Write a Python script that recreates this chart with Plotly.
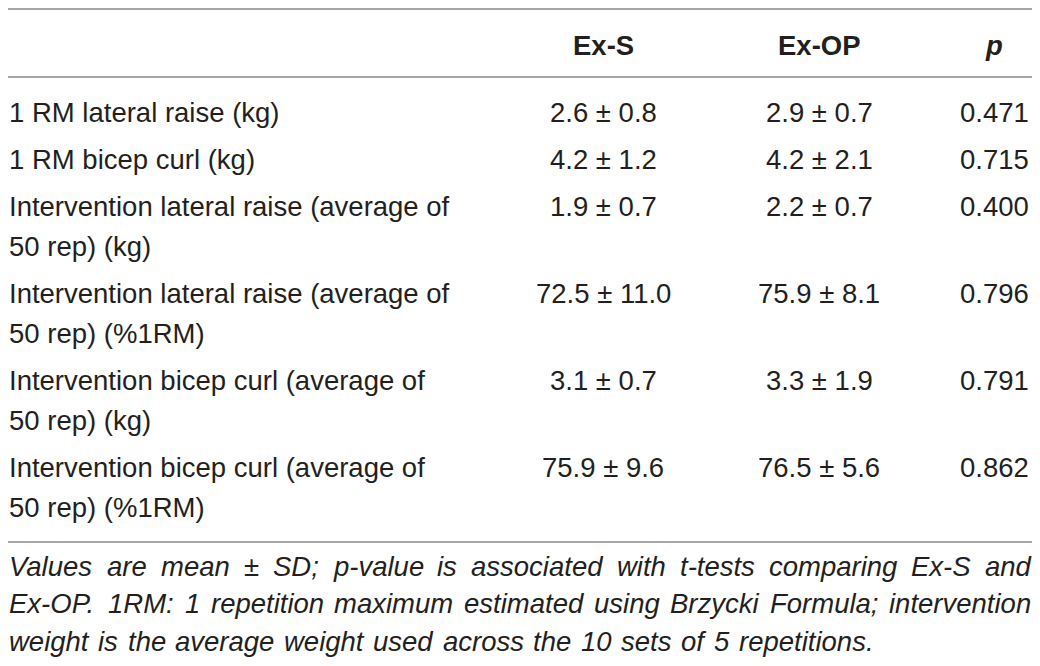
import plotly.graph_objects as go

# table contents
row_labels = [
    ["1 RM lateral raise (kg)"],
    ["1 RM bicep curl (kg)"],
    ["Intervention lateral raise (average of", "50 rep) (kg)"],
    ["Intervention lateral raise (average of", "50 rep) (%1RM)"],
    ["Intervention bicep curl (average of", "50 rep) (kg)"],
    ["Intervention bicep curl (average of", "50 rep) (%1RM)"],
]
ex_s_mean = [2.6, 4.2, 1.9, 72.5, 3.1, 75.9]
ex_s_sd = [0.8, 1.2, 0.7, 11.0, 0.7, 9.6]
ex_op_mean = [2.9, 4.2, 2.2, 75.9, 3.3, 76.5]
ex_op_sd = [0.7, 2.1, 0.7, 8.1, 1.9, 5.6]
p_values = [0.471, 0.715, 0.400, 0.796, 0.791, 0.862]
headers = ["<b>Ex-S</b>", "<b>Ex-OP</b>", "<b><i>p</i></b>"]
footnote = [
    "Values are mean ± SD; p-value is associated with t-tests comparing Ex-S and",
    "Ex-OP. 1RM: 1 repetition maximum estimated using Brzycki Formula; intervention",
    "weight is the average weight used across the 10 sets of 5 repetitions.",
]

W, H = 1040, 666
PAD = 8  # browser body margin, figure is kept inside it so nothing scrolls
FONT = "Liberation Sans, Arial, sans-serif"
TXT = "#231f20"
RULE = "#a6a6a6"
col_x = [603, 819, 994]
left_x = 8
fs = 27.5
foot_fs = 27.5
foot_widths = [1022, 1022, 864]  # justified line lengths

# Arial / Liberation Sans advance widths (1/1000 em), for justifying the footnote
ADV = dict(zip("abcdefghijklmnopqrstuvwxyz",
               [556, 556, 500, 556, 556, 278, 556, 556, 222, 222, 500, 222, 833,
                556, 556, 556, 556, 333, 500, 278, 556, 500, 722, 500, 500, 500]))
ADV.update(dict(zip("ABCDEFGHIJKLMNOPQRSTUVWXYZ",
                    [667, 667, 722, 722, 667, 611, 778, 722, 278, 500, 667, 556, 833,
                     722, 778, 667, 778, 722, 667, 611, 722, 667, 944, 667, 667, 611])))
ADV.update({c: 556 for c in "0123456789"})
ADV.update({" ": 278, ".": 278, ",": 278, ":": 278, ";": 278, "-": 333,
            "±": 549, "(": 333, ")": 333, "%": 889})


def text_width(s, size):
    return sum(ADV.get(c, 556) for c in s) * size / 1000.0


fig = go.Figure()
annos = []


def add_text(x, y, text, anchor="center", size=fs):
    annos.append(dict(x=x, y=y, xref="x", yref="y", text=text, showarrow=False,
                      xanchor=anchor, yanchor="middle", borderpad=0,
                      font=dict(family=FONT, size=size, color=TXT)))


# header
for cx, h in zip(col_x, headers):
    add_text(cx, 45, h)

# body rows
y = 112
for i, lab in enumerate(row_labels):
    for k, line in enumerate(lab):
        add_text(left_x, y + 40 * k, line, anchor="left")
    add_text(col_x[0], y, f"{ex_s_mean[i]:.1f} ± {ex_s_sd[i]:.1f}")
    add_text(col_x[1], y, f"{ex_op_mean[i]:.1f} ± {ex_op_sd[i]:.1f}")
    add_text(col_x[2], y, f"{p_values[i]:.3f}")
    y += 47 + 40 * (len(lab) - 1)

# footnote, justified word by word
for k, line in enumerate(footnote):
    words = line.split(" ")
    ww = [text_width(w, foot_fs) for w in words]
    gap = (foot_widths[k] - sum(ww)) / (len(words) - 1)
    x = left_x
    for w, wd in zip(words, ww):
        add_text(x, 566 + 37.5 * k, f"<i>{w}</i>", anchor="left", size=foot_fs)
        x += wd + gap

# horizontal rules
for ry in [9, 77, 542]:
    fig.add_shape(type="line", x0=5, x1=1035, y0=ry, y1=ry, xref="x", yref="y",
                  line=dict(color=RULE, width=2))

fig.update_layout(
    width=W - 2 * PAD, height=H - 2 * PAD,
    margin=dict(l=0, r=0, t=0, b=0),
    paper_bgcolor="white", plot_bgcolor="white",
    annotations=annos,
    showlegend=False,
    xaxis=dict(range=[PAD, W - PAD], visible=False, fixedrange=True),
    yaxis=dict(range=[H - PAD, PAD], visible=False, fixedrange=True),
)

fig.write_html("out.html")
